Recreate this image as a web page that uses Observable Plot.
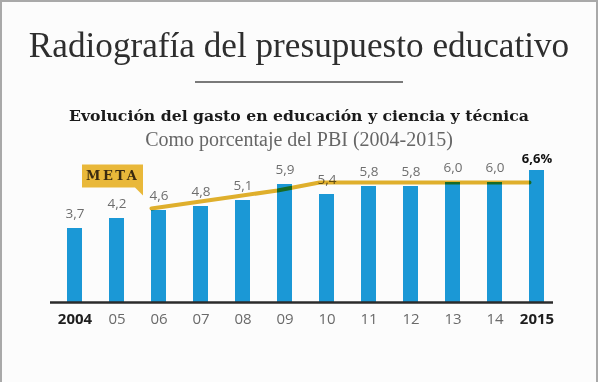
<!DOCTYPE html>
<html>
<head>
<meta charset="utf-8">
<script src="https://cdn.jsdelivr.net/npm/d3@7"></script>
<script src="https://cdn.jsdelivr.net/npm/@observablehq/plot@0.6"></script>
<style>
  body { margin: 0; }
  #card { position: relative; width: 598px; height: 382px; background: #fcfcfc;
          box-shadow: inset 2px 2px 0 #a9a9a9, inset -2px 0 0 #a9a9a9; overflow: hidden; }
  .hd { position: absolute; left: 0; width: 598px; text-align: center; white-space: nowrap; }
  #t1 { top: 27.7px; font: 35.2px/1 "Liberation Serif", serif; color: #2e2e2e; }
  #rule { position: absolute; left: 195px; width: 208px; top: 81px; height: 2px; background: #7a7a7a; }
  #t2 { top: 108px; font: bold 15.7px/1 "DejaVu Serif", serif; color: #1a1a1a; }
  #t3 { top: 129.2px; font: 20px/1 "Liberation Serif", serif; color: #666; }
  #chart { position: absolute; left: 0; top: 150px; }
  #chart [aria-label="tip"] text { letter-spacing: 2.5px; fill: #3a2a10; }
</style>
</head>
<body>
<div id="card">
  <div class="hd" id="t1">Radiografía del presupuesto educativo</div>
  <div id="rule"></div>
  <div class="hd" id="t2">Evolución del gasto en educación y ciencia y técnica</div>
  <div class="hd" id="t3">Como porcentaje del PBI (2004-2015)</div>
  <div id="chart"></div>
</div>
<script>
const years = ["2004","05","06","07","08","09","10","11","12","13","14","2015"];
const gasto = [3.7, 4.2, 4.6, 4.8, 5.1, 5.9, 5.4, 5.8, 5.8, 6.0, 6.0, 6.6];
const metaYears = ["06","07","08","09","10","11","12","13","14","2015"];
const metaValues = [4.7, 5.0, 5.3, 5.6, 6.0, 6.0, 6.0, 6.0, 6.0, 6.0];
const metaLabel = "META";
const boldTicks = ["2004","2015"];

const data = years.map((year, i) => ({year, value: gasto[i]}));
const meta = metaYears.map((year, i) => ({year, value: metaValues[i]}));
const last = data[data.length - 1];
const fmt = v => v.toFixed(1).replace(".", ",");

const chart = Plot.plot({
  width: 598, height: 232,
  marginTop: 12, marginBottom: 80, marginLeft: 38, marginRight: 25,
  style: {background: "transparent", fontFamily: "Open Sans", overflow: "visible"},
  x: {domain: years, padding: 0.645, label: null},
  y: {domain: [0, 7], axis: null},
  marks: [
    Plot.barY(data, {x: "year", y: "value", fill: "#1b98d6"}),
    Plot.ruleY([0], {stroke: "#2b2b2b", strokeWidth: 2.5, insetLeft: 12, insetRight: 20}),
    Plot.text(data.slice(0, -1), {x: "year", y: "value", text: d => fmt(d.value), dy: -15, fill: "#6e6e6e", fontSize: 13.5}),
    Plot.text([last], {x: "year", y: "value", text: d => fmt(d.value) + "%", dy: -12, fill: "#111", fontWeight: "bold", fontSize: 13}),
    Plot.line(meta, {x: "year", y: "value", dx: -7.5, stroke: "#e2b12c", strokeWidth: 4, mixBlendMode: "multiply"}),
    Plot.tip([meta[0]], {x: "year", y: "value", dx: -16, dy: -13, title: () => metaLabel, anchor: "bottom-right",
      fill: "#e9b83a", stroke: "none", pointerSize: 8, textPadding: 4, pathFilter: "none",
      fontFamily: "DejaVu Serif", fontWeight: "bold", fontSize: 13}),
    Plot.axisX(years.filter(d => !boldTicks.includes(d)), {tickSize: 0, tickPadding: 11, fontSize: 15, fill: "#6a6a6a"}),
    Plot.axisX(boldTicks, {tickSize: 0, tickPadding: 11, fontSize: 15, fill: "#1e1e1e", fontWeight: "bold"})
  ]
});
document.getElementById("chart").append(chart);
</script>
</body>
</html>
